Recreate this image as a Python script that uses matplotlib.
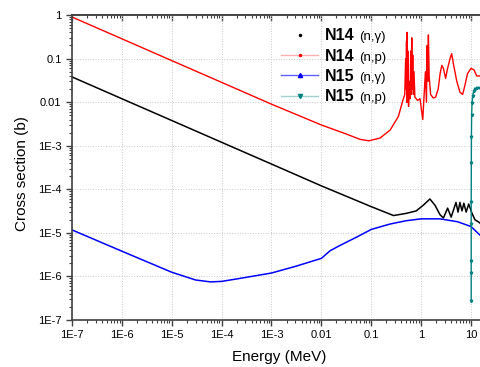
import numpy as np
import matplotlib
matplotlib.use("Agg")
import matplotlib.pyplot as plt
from matplotlib.lines import Line2D
from matplotlib.ticker import LogLocator, NullFormatter

plt.rcParams["font.family"] = ["Liberation Sans", "DejaVu Sans"]

# N14 (n,gamma)
e_n14_ng = [1e-7, 1e-6, 1e-5, 1e-4, 1e-3, 0.01, 0.1, 0.28, 0.5, 0.8, 1.1, 1.5, 1.9, 2.4,
            2.8, 3.4, 4.0, 5.0, 5.5, 6.0, 6.6, 7.2, 8.0, 9.0, 10.5, 12.0, 14.0, 16.0, 20.0]
s_n14_ng = [0.038, 0.012, 0.0038, 0.0012, 3.8e-4, 1.2e-4, 4.0e-5, 2.5e-5, 2.8e-5, 3.2e-5,
            4.3e-5, 6.0e-5, 4.3e-5, 2.6e-5, 2.2e-5, 3.7e-5, 2.3e-5, 5.0e-5, 3.0e-5, 5.0e-5,
            3.2e-5, 4.8e-5, 3.0e-5, 4.6e-5, 2.8e-5, 2.0e-5, 1.8e-5, 1.6e-5, 1.5e-5]

# N14 (n,p)
e_n14_np = [1e-7, 1e-6, 1e-5, 1e-4, 1e-3, 0.01, 0.03, 0.06, 0.09, 0.15, 0.24, 0.35, 0.43,
            0.47, 0.49, 0.50, 0.51, 0.515, 0.52, 0.53, 0.54, 0.56, 0.58, 0.60, 0.62, 0.63,
            0.65, 0.66, 0.68, 0.70, 0.72, 0.75, 0.85, 0.95, 1.08, 1.15, 1.22, 1.28, 1.32,
            1.36, 1.40, 1.45, 1.55, 1.75, 1.95, 2.2, 2.4, 2.6, 2.8, 3.1, 3.4, 3.8, 4.1, 4.5,
            5.2, 6.0, 6.8, 7.6, 8.5, 10.0, 11.5, 13.0, 15.0, 20.0]
s_n14_np = [0.9, 0.285, 0.09, 0.0285, 0.009, 0.003, 0.0019, 0.0014, 0.0013, 0.0015, 0.0023,
            0.0047, 0.011, 0.015, 0.1, 0.02, 0.25, 0.01, 0.4, 0.01, 0.15, 0.008, 0.03, 0.012,
            0.15, 0.015, 0.3, 0.02, 0.12, 0.015, 0.05, 0.013, 0.011, 0.012, 0.004, 0.015,
            0.05, 0.01, 0.2, 0.03, 0.35, 0.04, 0.015, 0.0125, 0.013, 0.02, 0.045, 0.07, 0.06,
            0.035, 0.06, 0.1, 0.13, 0.07, 0.03, 0.017, 0.015, 0.025, 0.045, 0.06, 0.055, 0.04,
            0.04, 0.03]

# N15 (n,gamma)
e_n15_ng = [1e-7, 1e-6, 1e-5, 3e-5, 6e-5, 1e-4, 2.3e-4, 1e-3, 3e-3, 0.01, 0.015, 0.024,
            0.052, 0.1, 0.24, 0.5, 1.0, 2.4, 5.4, 10.0, 15.6, 20.0]
s_n15_ng = [1.17e-5, 3.8e-6, 1.25e-6, 8.3e-7, 7.5e-7, 7.7e-7, 9.0e-7, 1.2e-6, 1.7e-6, 2.6e-6,
            3.9e-6, 5.2e-6, 8.1e-6, 1.2e-5, 1.6e-5, 1.9e-5, 2.1e-5, 2.1e-5, 1.8e-5, 1.4e-5,
            8.6e-6, 7.0e-6]

# N15 (n,p)
e_n15_np = [10.1, 10.1, 10.1, 10.1, 10.1, 10.15, 10.2, 10.3, 10.5, 10.8, 11.3, 12.0, 13.0, 15.0, 20.0]
s_n15_np = [2.8e-7, 1.2e-6, 2.3e-6, 1.6e-5, 5e-5, 4e-4, 1.6e-3, 5e-3, 9.5e-3, 0.014, 0.018,
            0.02, 0.021, 0.021, 0.02]

x_ticks = [1e-7, 1e-6, 1e-5, 1e-4, 1e-3, 0.01, 0.1, 1, 10]
x_labels = ["1E-7", "1E-6", "1E-5", "1E-4", "1E-3", "0.01", "0.1", "1", "10"]
y_ticks = [1e-7, 1e-6, 1e-5, 1e-4, 1e-3, 0.01, 0.1, 1]
y_labels = ["1E-7", "1E-6", "1E-5", "1E-4", "1E-3", "0.01", "0.1", "1"]

fig = plt.figure(figsize=(4.8, 3.67), dpi=100)
ax = fig.add_axes([0.15, 0.128, 0.8625, 0.831])

ax.plot(e_n14_ng, s_n14_ng, color="black", lw=1.1)
ax.plot(e_n14_np, s_n14_np, color="red", lw=1.0)
ax.plot(e_n15_ng, s_n15_ng, color="blue", lw=1.1)
ax.plot(e_n15_np, s_n15_np, color="#008080", lw=1.0, marker="v", ms=1.8)

ax.set_xscale("log")
ax.set_yscale("log")
ax.set_xlim(1e-7, 20)
ax.set_ylim(1e-7, 1)
ax.set_xticks(x_ticks, x_labels)
ax.set_yticks(y_ticks, y_labels)
for axis in (ax.xaxis, ax.yaxis):
    axis.set_minor_locator(LogLocator(base=10, subs=np.arange(2, 10), numticks=100))
    axis.set_minor_formatter(NullFormatter())
ax.tick_params(which="major", direction="out", length=4, width=1, labelsize=8, color="#404040")
ax.tick_params(which="minor", direction="out", length=2.2, width=0.8, color="#404040")
ax.grid(True, which="major", ls=":", lw=0.7, color="#c8c8c8")

sec = ax.secondary_xaxis("top")
sec.set_xticks(x_ticks)
sec.xaxis.set_minor_locator(LogLocator(base=10, subs=np.arange(2, 10), numticks=100))
sec.xaxis.set_minor_formatter(NullFormatter())
sec.tick_params(which="major", direction="in", length=4, width=1, labeltop=False, color="#404040")
sec.tick_params(which="minor", direction="in", length=2.2, width=0.8, color="#404040")
sec.spines["top"].set_color("#404040")
sec.spines["top"].set_linewidth(1.2)

for side in ("left", "bottom", "top"):
    ax.spines[side].set_color("#404040")
    ax.spines[side].set_linewidth(1.2)
ax.spines["right"].set_visible(False)

ax.set_xlabel("Energy (MeV)", fontsize=11, labelpad=7)
ax.set_ylabel("Cross section (b)", fontsize=11, labelpad=5)
ax.yaxis.set_label_coords(-0.105, 0.48)

handles = [
    Line2D([], [], ls="none", marker=".", ms=3, color="black"),
    Line2D([], [], color="#ffb0b0", lw=1, marker=".", ms=3, mfc="red", mec="red"),
    Line2D([], [], color="#6060ff", lw=1, marker="^", ms=3, mfc="blue", mec="blue"),
    Line2D([], [], color="#a0d0d0", lw=1, marker="v", ms=3, mfc="#008080", mec="#008080"),
]
names = ["N14", "N14", "N15", "N15"]
reactions = ["(n,\u03b3)", "(n,p)", "(n,\u03b3)", "(n,p)"]
leg = ax.legend(handles, names, loc="upper left", bbox_to_anchor=(0.49, 0.977),
                frameon=False, prop={"weight": "bold", "size": 11.5},
                handlelength=2.3, handletextpad=0.45, labelspacing=0.33, borderaxespad=0)

# reaction part of each legend entry in a smaller, regular font
fig.canvas.draw()
inv = fig.transFigure.inverted()
for t, r in zip(leg.get_texts(), reactions):
    bb = t.get_window_extent()
    x, y = inv.transform((bb.x1 + 4, bb.y0))
    fig.text(x, y, r, fontsize=9.5, va="bottom", ha="left")

fig.savefig("out.png", dpi=100)
